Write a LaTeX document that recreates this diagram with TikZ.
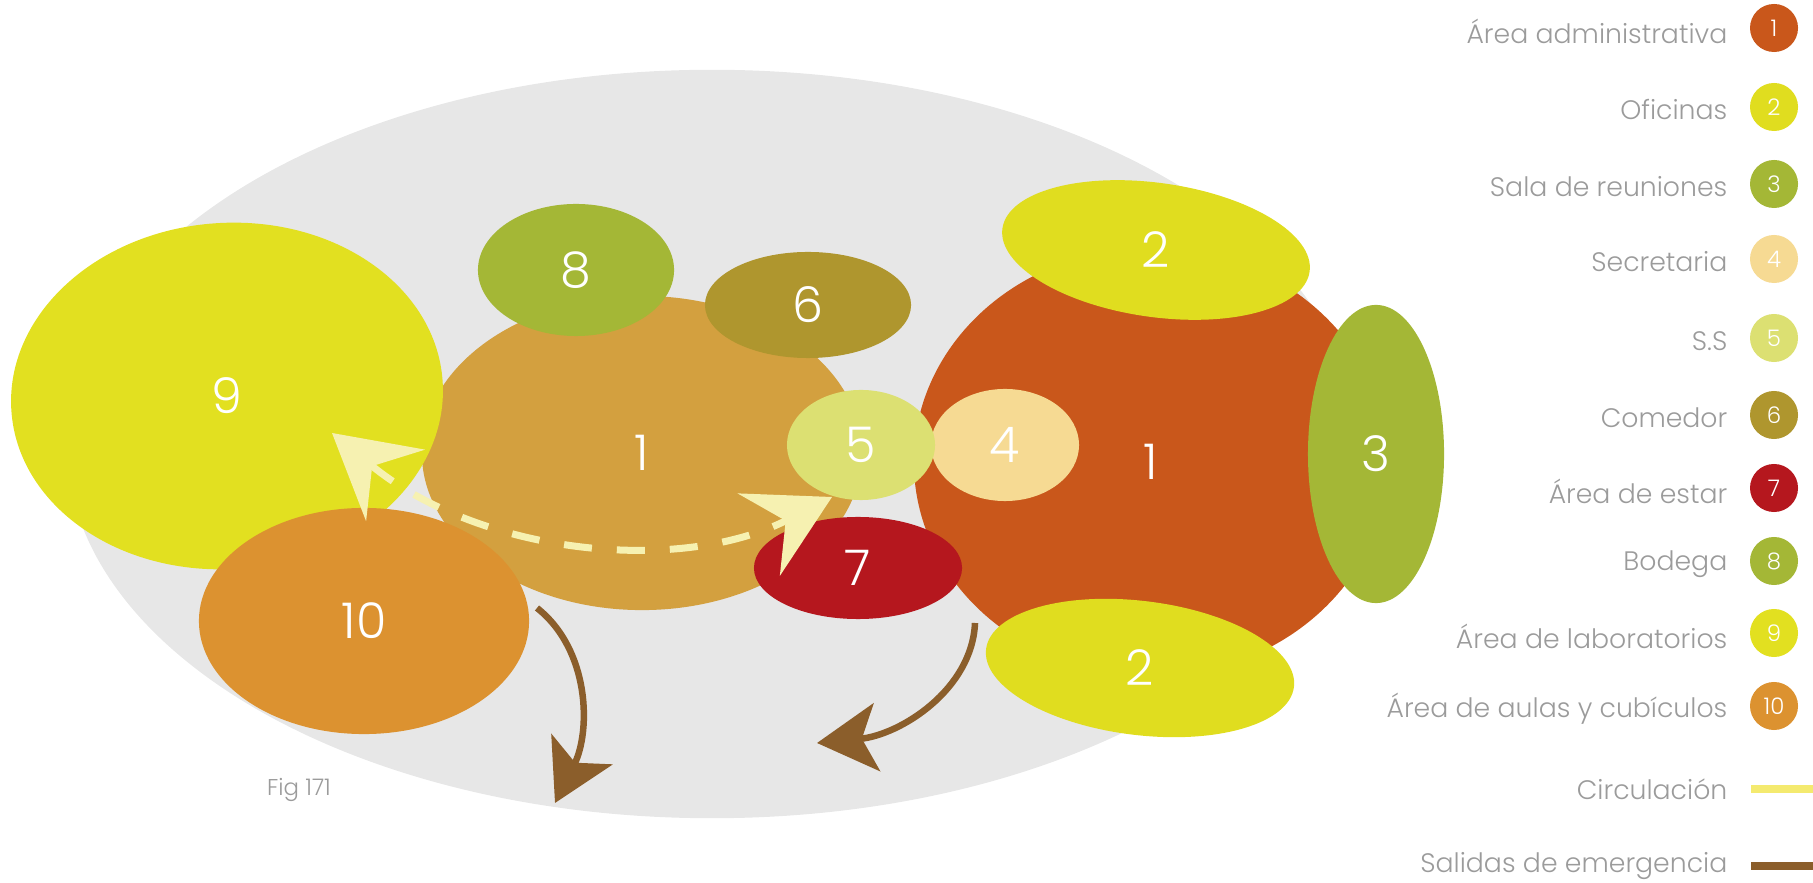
\documentclass[tikz,border=0pt]{standalone}
\usepackage{fontspec}
\setmainfont{Poppins Light}
\usepackage{tikz}
\usetikzlibrary{shapes.geometric}
\usetikzlibrary{arrows.meta}
\usepackage{xcolor}
\definecolor{fondo}{HTML}{E7E7E7}
\definecolor{admin}{HTML}{C9571B}
\definecolor{admintan}{HTML}{D3A03F}
\definecolor{oficina}{HTML}{E0DD1F}
\definecolor{reunion}{HTML}{A4B736}
\definecolor{secre}{HTML}{F6DA93}
\definecolor{sanit}{HTML}{DCE072}
\definecolor{comedor}{HTML}{AF962E}
\definecolor{estar}{HTML}{B5171E}
\definecolor{bodega}{HTML}{A4B736}
\definecolor{labo}{HTML}{E2E020}
\definecolor{aulas}{HTML}{DC9230}
\definecolor{circpath}{HTML}{F6F1B1}
\definecolor{circleg}{HTML}{F4EA6F}
\definecolor{salida}{HTML}{8B5E2B}
\definecolor{leggray}{HTML}{9B9B9B}

\begin{document}
\begin{tikzpicture}[
    x=0.01cm, y=-0.01cm,
    zone/.style={ellipse, inner sep=0pt, text=white, font=\fontsize{14}{14}\selectfont},
    legdot/.style={circle, minimum size=0.48cm, inner sep=0pt, text=white, font=\fontsize{6.5}{6.5}\selectfont},
    legtxt/.style={anchor=east, inner sep=0pt, text=leggray, font=\fontsize{7.6}{7.6}\selectfont},
    legline/.style={line width=0.08cm},
    circflow/.style={line width=0.07cm, draw=circpath, dash pattern=on 0.28cm off 0.25cm,
        {Stealth[length=0.82cm, width=0.92cm, inset=0.3cm]}-{Stealth[length=0.82cm, width=0.92cm, inset=0.3cm]}},
    exitarrow/.style={line width=0.065cm, draw=salida,
        -{Stealth[length=0.6cm, width=0.68cm, inset=0.15cm]}}
]
    \useasboundingbox (0,0) rectangle (1813,883);

    % Background zone
    \node[zone, fill=fondo, minimum width=12.9cm, minimum height=7.48cm] (campus) at (712,444) {};

    % Left block
    \node[zone, fill=admintan, minimum width=4.4cm, minimum height=3.14cm] (adminA) at (642,453) {1};
    \node[zone, fill=labo, rotate=4, minimum width=4.32cm, minimum height=3.46cm] (labs) at (227,396) {\rotatebox{-4}{9}};
    \node[zone, fill=aulas, minimum width=3.3cm, minimum height=2.26cm] (aulas) at (364,621) {10};
    \node[zone, fill=bodega, minimum width=1.96cm, minimum height=1.32cm] (bodega) at (576,270) {8};
    \node[zone, fill=comedor, minimum width=2.06cm, minimum height=1.06cm] (comedor) at (808,305) {6};

    % Right block
    \node[zone, fill=admin, minimum width=4.74cm, minimum height=4.28cm] (adminB) at (1151,462) {1};
    \node[zone, fill=oficina, rotate=-8, minimum width=3.1cm, minimum height=1.34cm] (ofiA) at (1156,250) {\rotatebox{8}{2}};
    \node[zone, fill=oficina, rotate=-7, minimum width=3.1cm, minimum height=1.34cm] (ofiB) at (1140,668) {\rotatebox{7}{2}};
    \node[zone, fill=reunion, minimum width=1.36cm, minimum height=2.98cm] (reunion) at (1376,454) {3};
    \node[zone, fill=secre, minimum width=1.48cm, minimum height=1.12cm] (secre) at (1005,445) {4};
    \node[zone, fill=sanit, minimum width=1.48cm, minimum height=1.1cm] (sanit) at (861,445) {5};
    \node[zone, fill=estar, minimum width=2.08cm, minimum height=1.02cm] (estar) at (858,568) {7};

    % Circulation
    \coordinate (circA) at (332,433);
    \coordinate (circB) at (832,497);
    \draw[circflow] (circA) .. controls (480,555) and (680,575) .. (circB);

    % Emergency exits
    \coordinate (exitA1) at (537,608);
    \coordinate (exitA2) at (555,803);
    \coordinate (exitB1) at (975,623);
    \coordinate (exitB2) at (817,743);
    \draw[exitarrow] (exitA1) .. controls (590,650) and (591,731) .. (exitA2);
    \draw[exitarrow] (exitB1) .. controls (972,690) and (900,735) .. (exitB2);

    \node[text=leggray, font=\fontsize{6.5}{6.5}\selectfont] (figure) at (299,790) {Fig 171};

    % Legend
    \node[legdot, fill=admin] (l1) at (1774,28) {1};
    \node[legtxt] (t1) at (1728,31) {Área administrativa};
    \node[legdot, fill=oficina] (l2) at (1774,107) {2};
    \node[legtxt] (t2) at (1728,110) {Oficinas};
    \node[legdot, fill=reunion] (l3) at (1774,184) {3};
    \node[legtxt] (t3) at (1728,187) {Sala de reuniones};
    \node[legdot, fill=secre] (l4) at (1774,259) {4};
    \node[legtxt] (t4) at (1728,262) {Secretaria};
    \node[legdot, fill=sanit] (l5) at (1774,338) {5};
    \node[legtxt] (t5) at (1728,341) {S.S};
    \node[legdot, fill=comedor] (l6) at (1774,415) {6};
    \node[legtxt] (t6) at (1728,418) {Comedor};
    \node[legdot, fill=estar] (l7) at (1774,488) {7};
    \node[legtxt] (t7) at (1728,491) {Área de estar};
    \node[legdot, fill=bodega] (l8) at (1774,561) {8};
    \node[legtxt] (t8) at (1728,564) {Bodega};
    \node[legdot, fill=labo] (l9) at (1774,633) {9};
    \node[legtxt] (t9) at (1728,636) {Área de laboratorios};
    \node[legdot, fill=aulas] (l10) at (1774,706) {10};
    \node[legtxt] (t10) at (1728,709) {Área de aulas y cubículos};
    \coordinate (lc1) at (1751,789);
    \coordinate (lc2) at (1813,789);
    \draw[legline, draw=circleg] (lc1) -- (lc2);
    \node[legtxt] (t11) at (1728,789) {Circulación};
    \coordinate (ls1) at (1751,866);
    \coordinate (ls2) at (1813,866);
    \draw[legline, draw=salida] (ls1) -- (ls2);
    \node[legtxt] (t12) at (1728,866) {Salidas de emergencia};
\end{tikzpicture}
\end{document}
